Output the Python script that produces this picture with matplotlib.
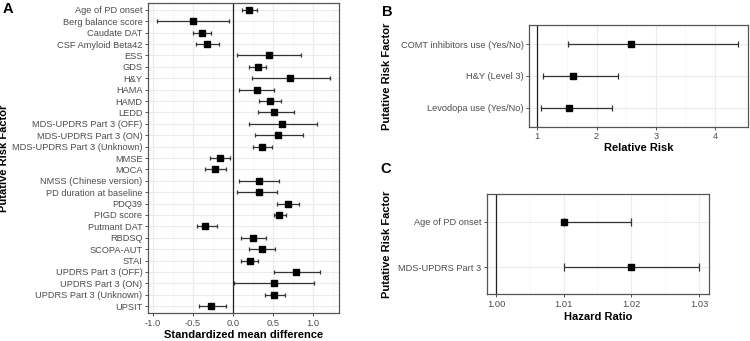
import matplotlib
matplotlib.use("Agg")
import matplotlib.pyplot as plt
from matplotlib.ticker import FixedLocator
import numpy as np

# ---------------- data ----------------
a_labels = ["Age of PD onset", "Berg balance score", "Caudate DAT", "CSF Amyloid Beta42",
            "ESS", "GDS", "H&Y", "HAMA", "HAMD", "LEDD",
            "MDS-UPDRS Part 3 (OFF)", "MDS-UPDRS Part 3 (ON)", "MDS-UPDRS Part 3 (Unknown)",
            "MMSE", "MOCA", "NMSS (Chinese version)", "PD duration at baseline",
            "PDQ39", "PIGD score", "Putmant DAT", "RBDSQ", "SCOPA-AUT", "STAI",
            "UPDRS Part 3 (OFF)", "UPDRS Part 3 (ON)", "UPDRS Part 3 (Unknown)", "UPSIT"]
a_est = [0.20, -0.50, -0.38, -0.32, 0.45, 0.31, 0.72, 0.30, 0.46, 0.52,
         0.62, 0.57, 0.36, -0.16, -0.22, 0.33, 0.33, 0.69, 0.58, -0.35,
         0.25, 0.36, 0.21, 0.79, 0.51, 0.52, -0.27]
a_lo = [0.12, -0.95, -0.50, -0.46, 0.05, 0.20, 0.24, 0.08, 0.33, 0.31,
        0.20, 0.28, 0.25, -0.28, -0.35, 0.08, 0.05, 0.55, 0.51, -0.45,
        0.10, 0.20, 0.10, 0.51, 0.01, 0.40, -0.42]
a_hi = [0.30, -0.05, -0.27, -0.17, 0.85, 0.41, 1.22, 0.52, 0.60, 0.76,
        1.05, 0.88, 0.49, -0.03, -0.08, 0.58, 0.55, 0.83, 0.67, -0.20,
        0.42, 0.53, 0.32, 1.09, 1.02, 0.65, -0.09]

b_labels = ["COMT inhibitors use (Yes/No)", "H&Y (Level 3)", "Levodopa use (Yes/No)"]
b_est = [2.58, 1.61, 1.54]
b_lo = [1.52, 1.10, 1.07]
b_hi = [4.39, 2.37, 2.26]

c_labels = ["Age of PD onset", "MDS-UPDRS Part 3"]
c_est = [1.010, 1.020]
c_lo = [1.010, 1.010]
c_hi = [1.020, 1.030]

a_ticks = [-1.0, -0.5, 0.0, 0.5, 1.0]
b_ticks = [1, 2, 3, 4]
c_ticks = [1.00, 1.01, 1.02, 1.03]

# ---------------- style ----------------
TICKC = "#4D4D4D"
GRID_MAJ = "#EBEBEB"
GRID_MIN = "#F5F5F5"
BORDER = "#333333"
FONT = "Liberation Sans"

fig = plt.figure(figsize=(7.5, 3.41), dpi=100)


def setup(ax, labels, est, lo, hi, xlim, ticks, minor, xlabel, ref, fmt, capsize, ms,
          tsize, ylab_x, xlpad):
    n = len(labels)
    y = np.arange(n)[::-1] + 1.0
    ax.set_ylim(0.4, n + 0.6)
    ax.set_xlim(*xlim)
    ax.set_yticks(y)
    ax.set_yticklabels(labels, fontsize=tsize, color=TICKC, family=FONT)
    ax.set_xticks(ticks)
    ax.set_xticklabels([fmt(t) for t in ticks], fontsize=tsize, color=TICKC, family=FONT)
    ax.xaxis.set_minor_locator(FixedLocator(minor))
    ax.tick_params(axis="both", which="major", length=2.5, width=0.6, color=BORDER, pad=1.5)
    ax.tick_params(axis="x", which="minor", length=0)
    ax.grid(True, which="major", color=GRID_MAJ, lw=0.8, zorder=0)
    ax.grid(True, which="minor", axis="x", color=GRID_MIN, lw=0.5, zorder=0)
    ax.set_axisbelow(True)
    for s in ax.spines.values():
        s.set_color("#555555")
        s.set_linewidth(0.9)
    ax.axvline(ref, color="#222222", lw=0.9, zorder=2)
    est = np.array(est); lo = np.array(lo); hi = np.array(hi)
    ax.errorbar(est, y, xerr=[est - lo, hi - est], fmt="s", color="black",
                ecolor="#333333", elinewidth=0.9, capsize=capsize, capthick=0.9,
                ms=ms, zorder=3)
    ax.set_xlabel(xlabel, fontsize=8, fontweight="bold", family=FONT, labelpad=xlpad)
    ax.set_ylabel("Putative Risk Factor", fontsize=8, fontweight="bold", family=FONT)
    ax.yaxis.set_label_coords(ylab_x, 0.5)


axA = fig.add_axes([0.1973, 0.0821, 0.2551, 0.9091])
setup(axA, a_labels, a_est, a_lo, a_hi, (-1.06, 1.33), a_ticks,
      [-0.75, -0.25, 0.25, 0.75, 1.25], "Standardized mean difference", 0.0,
      lambda t: f"{t:.1f}", 1.3, 3.8, 6.7, -0.727, 2)

axB = fig.add_axes([0.7053, 0.6284, 0.2924, 0.2982])
setup(axB, b_labels, b_est, b_lo, b_hi, (0.86, 4.56), b_ticks,
      [1.5, 2.5, 3.5, 4.5], "Relative Risk", 1.0,
      lambda t: f"{t:d}", 2.5, 3.8, 6.7, -0.626, 1.5)

axC = fig.add_axes([0.6489, 0.1369, 0.2964, 0.2933])
setup(axC, c_labels, c_est, c_lo, c_hi, (0.99863, 1.03148), c_ticks,
      [1.005, 1.015, 1.025], "Hazard Ratio", 1.0,
      lambda t: f"{t:.2f}", 3.0, 3.8, 6.7, -0.427, 2)

fig.text(0.003, 0.995, "A", fontsize=10.5, fontweight="bold", family=FONT, va="top")
fig.text(0.509, 0.985, "B", fontsize=10.5, fontweight="bold", family=FONT, va="top")
fig.text(0.507, 0.525, "C", fontsize=10.5, fontweight="bold", family=FONT, va="top")

fig.savefig("out.png", dpi=100, facecolor="white")
